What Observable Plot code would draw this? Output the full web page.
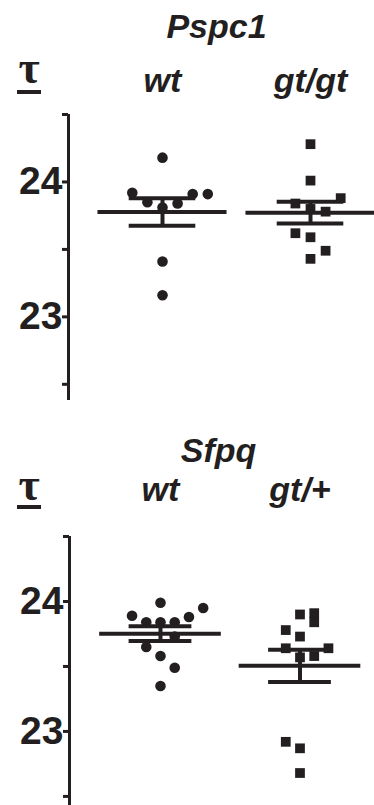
<!DOCTYPE html>
<html>
<head>
<meta charset="utf-8">
<script src="https://cdn.jsdelivr.net/npm/d3@7"></script>
<script src="https://cdn.jsdelivr.net/npm/@observablehq/plot@0.6"></script>
<style>
  html, body { margin: 0; padding: 0; background: #fff; }
  #page {
    position: relative; width: 374px; height: 805px; overflow: hidden;
    font-family: "Liberation Sans", Arial, sans-serif; color: #231f20;
  }
  .title {
    position: absolute; font-size: 34px; line-height: 34px; font-weight: bold;
    font-style: italic; white-space: nowrap; transform: translateX(-50%);
  }
  .tau {
    position: absolute; font-family: "Liberation Serif", serif; font-size: 46px;
    font-weight: bold; line-height: 46px; width: 24px; text-align: center;
  }
  .tau-rule { position: absolute; height: 4px; background: #231f20; }
  .panel { position: absolute; left: 0; }
  .panel svg text { font-weight: bold; }
</style>
</head>
<body>
<div id="page"></div>
<script>
// Cycle threshold values per animal, two genes, two genotypes each.
const pspc1Groups = ["wt", "gt/gt"];
const pspc1Wt = [24.18, 23.92, 23.85, 23.81, 23.84, 23.91, 23.91, 23.41, 23.16];
const pspc1WtCol = [0, -2, -1, 0, 1, 2, 3, 0, 0];
const pspc1Gt = [24.28, 24.01, 23.88, 23.84, 23.80, 23.78, 23.62, 23.59, 23.49, 23.43];
const pspc1GtCol = [0, 0, 2, -1, 0, 1, -1, 0, 1, 0];

const sfpqGroups = ["wt", "gt/+"];
const sfpqWt = [23.99, 23.89, 23.95, 23.88, 23.84, 23.84, 23.84, 23.73, 23.65, 23.58, 23.49, 23.35];
const sfpqWtCol = [0, -2, 3, 2, -1, 0, 1, 1, -1, 0, 1, 0];
const sfpqGt = [23.90, 23.91, 23.84, 23.78, 23.73, 23.64, 23.64, 23.57, 23.58, 22.92, 22.87, 22.68];
const sfpqGtCol = [0, 1, 1, -1, 0, -1, 2, 0, 1, -1, 0, 0];

// Axis ticks: every half unit, numbers on whole units only
const yTicks = [22.5, 23, 23.5, 24, 24.5];
const yTickLabels = [23, 24];

const ink = "#231f20";
const page = document.getElementById("page");

function scatterPanel(o) {
  const series = [o.a, o.b];
  const cols = [o.aCol, o.bCol];
  const colStep = 0.102;

  // mean ± SEM per genotype
  const summary = series.map((v, i) => {
    const m = d3.mean(v);
    const se = d3.deviation(v) / Math.sqrt(v.length);
    return {i, mean: m, lo: m - se, hi: m + se};
  });
  const pts = series.map((v, i) => v.map((y, k) => ({x: i + cols[i][k] * colStep, y})));

  const chart = Plot.plot({
    width: 374,
    height: o.height,
    marginLeft: o.marginLeft,
    marginRight: 0,
    marginTop: 66,
    marginBottom: o.marginBottom,
    x: {type: "linear", domain: o.xDomain, axis: null},
    y: {domain: o.yDomain, axis: null},
    style: {fontFamily: '"Liberation Sans", Arial, sans-serif', color: ink, background: "white", overflow: "visible"},
    marks: [
      Plot.ruleX([o.xDomain[0]], {stroke: ink, strokeWidth: 3}),
      Plot.axisY({
        ticks: yTicks, tickSize: 6, tickPadding: 0, strokeWidth: 3,
        fontSize: 39, fontWeight: "bold",
        tickFormat: d => yTickLabels.includes(d) ? String(d) : "", label: null
      }),
      Plot.axisX({
        anchor: "top", ticks: [0, 1], tickFormat: i => o.groups[i],
        tickSize: 0, tickPadding: o.labelPadding,
        fontSize: 34, fontWeight: "bold", fontStyle: "italic", label: null
      }),
      Plot.dot(pts[0], {x: "x", y: "y", r: 5.3, symbol: "circle", fill: ink, stroke: null}),
      Plot.dot(pts[1], {x: "x", y: "y", r: 5.5, symbol: "square", fill: ink, stroke: null}),
      Plot.ruleY(summary, {y: "mean", x1: d => d.i - 0.436, x2: d => d.i + 0.436, stroke: ink, strokeWidth: 4}),
      Plot.ruleX(summary, {x: "i", y1: "lo", y2: "hi", stroke: ink, strokeWidth: 4}),
      Plot.ruleY(summary, {y: "hi", x1: d => d.i - 0.225, x2: d => d.i + 0.225, stroke: ink, strokeWidth: 4}),
      Plot.ruleY(summary, {y: "lo", x1: d => d.i - 0.225, x2: d => d.i + 0.225, stroke: ink, strokeWidth: 4})
    ]
  });

  const title = document.createElement("div");
  title.className = "title";
  title.textContent = o.title;
  title.style.left = o.titleX + "px";
  title.style.top = (o.titleBaseline - 28.8) + "px";
  page.appendChild(title);

  const wrap = document.createElement("div");
  wrap.className = "panel";
  wrap.style.top = o.top + "px";
  wrap.appendChild(chart);
  page.appendChild(wrap);

  // underlined tau heading the value axis
  const tau = document.createElement("div");
  tau.className = "tau";
  tau.textContent = "τ";
  tau.style.left = "17px";
  tau.style.top = (o.tauBaseline - 0.8375 * 46) + "px";
  page.appendChild(tau);
  const bar = document.createElement("div");
  bar.className = "tau-rule";
  bar.style.left = "17px";
  bar.style.width = "24px";
  bar.style.top = o.tauRule + "px";
  page.appendChild(bar);
}

scatterPanel({
  title: "Pspc1", titleX: 216.5, titleBaseline: 38,
  groups: pspc1Groups, a: pspc1Wt, aCol: pspc1WtCol, b: pspc1Gt, bCol: pspc1GtCol,
  top: 48, height: 354, marginLeft: 68, marginBottom: 2,
  xDomain: [-0.6351, 1.4324], yDomain: [22.38, 24.5], labelPadding: 23,
  tauBaseline: 84, tauRule: 90
});

scatterPanel({
  title: "Sfpq", titleX: 218.5, titleBaseline: 461.5,
  groups: sfpqGroups, a: sfpqWt, aCol: sfpqWtCol, b: sfpqGt, bCol: sfpqGtCol,
  top: 470, height: 335, marginLeft: 69, marginBottom: 0,
  xDomain: [-0.6523, 1.5341], yDomain: [22.43, 24.5], labelPadding: 36,
  tauBaseline: 501, tauRule: 505
});
</script>
</body>
</html>
